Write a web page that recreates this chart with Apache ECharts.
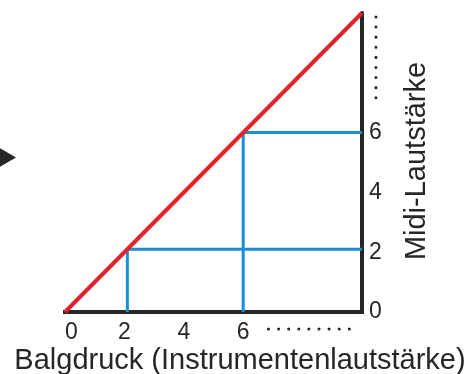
<!DOCTYPE html>
<html><head><meta charset="utf-8">
<script src="https://cdn.jsdelivr.net/npm/echarts@6/dist/echarts.min.js"></script>
<style>html,body{margin:0;padding:0;background:#fff}#c{width:470px;height:374px}</style>
</head><body><div id="c"></div>
<script>
// Data
const redLine = [[0, 0], [10, 10]];                       // Balgdruck -> Midi-Lautstärke
const blueLow = [[2.1, 0], [2.1, 2.1], [10, 2.1]];        // mapping at ~2
const blueHigh = [[6, 0], [6, 6], [10, 6]];               // mapping at 6
const xTickLabels = [0, 2, 4, 6];
const yTickLabels = [0, 2, 4, 6];
const xDots = [[6.85, -0.57], [9.6, -0.57]];
const yDots = [[10.47, 6.86], [10.47, 9.87]];
const xTitle = 'Balgdruck (Instrumentenlautstärke)';
const yTitle = 'Midi-Lautstärke';

const ink = '#262626';
const font = 'Liberation Sans, Arial, sans-serif';
const chart = echarts.init(document.getElementById('c'), null, {renderer: 'canvas'});
chart.setOption({
  animation: false,
  grid: {left: 65, right: 108, top: 13, bottom: 62, containLabel: false},
  xAxis: {
    type: 'value', min: 0, max: 10, interval: 2,
    axisLine: {onZero: false, lineStyle: {color: ink, width: 4, cap: 'square'}},
    axisTick: {show: false}, splitLine: {show: false},
    axisLabel: {
      margin: 9, color: ink, fontSize: 23, fontFamily: font, alignMinLabel: 'left',
      formatter: v => xTickLabels.includes(v) ? String(v) : ''
    }
  },
  yAxis: {
    type: 'value', position: 'right', min: 0, max: 10, interval: 2,
    axisLine: {show: true, onZero: false, lineStyle: {color: ink, width: 4}},
    axisTick: {show: false}, splitLine: {show: false},
    axisLabel: {
      margin: 7, color: ink, fontSize: 23, fontFamily: font,
      formatter: v => yTickLabels.includes(v) ? String(v) : ''
    }
  },
  series: [
    {type: 'line', data: blueLow, symbol: 'none', lineStyle: {color: '#1a8fd6', width: 3}, z: 3},
    {type: 'line', data: blueHigh, symbol: 'none', lineStyle: {color: '#1a8fd6', width: 3}, z: 3},
    {type: 'line', data: redLine, symbol: 'none', lineStyle: {color: '#e3232b', width: 4}, z: 4}
  ]
});
const toPx = p => chart.convertToPixel({gridIndex: 0}, p);
const dotStyle = {stroke: ink, lineWidth: 3, lineDash: [0.1, 10], lineCap: 'round'};
const xa = toPx(xDots[0]), xb = toPx(xDots[1]);
const ya = toPx(yDots[0]), yb = toPx(yDots[1]);
chart.setOption({
  graphic: [
    {type: 'line', shape: {x1: xa[0], y1: xa[1], x2: xb[0], y2: xb[1]}, style: dotStyle},
    {type: 'line', shape: {x1: yb[0], y1: yb[1], x2: ya[0], y2: ya[1]}, style: dotStyle},
    {type: 'polygon', shape: {points: [[-4, 146], [16, 157.5], [-4, 169]]}, style: {fill: ink}},
    {type: 'text', x: 240, y: 361, style: {text: xTitle, fill: ink, font: '29px ' + font, align: 'center', verticalAlign: 'middle'}},
    {type: 'text', x: 417, y: 161, rotation: Math.PI / 2, style: {text: yTitle, fill: ink, font: '29px ' + font, align: 'center', verticalAlign: 'middle'}}
  ]
});
</script></body></html>
